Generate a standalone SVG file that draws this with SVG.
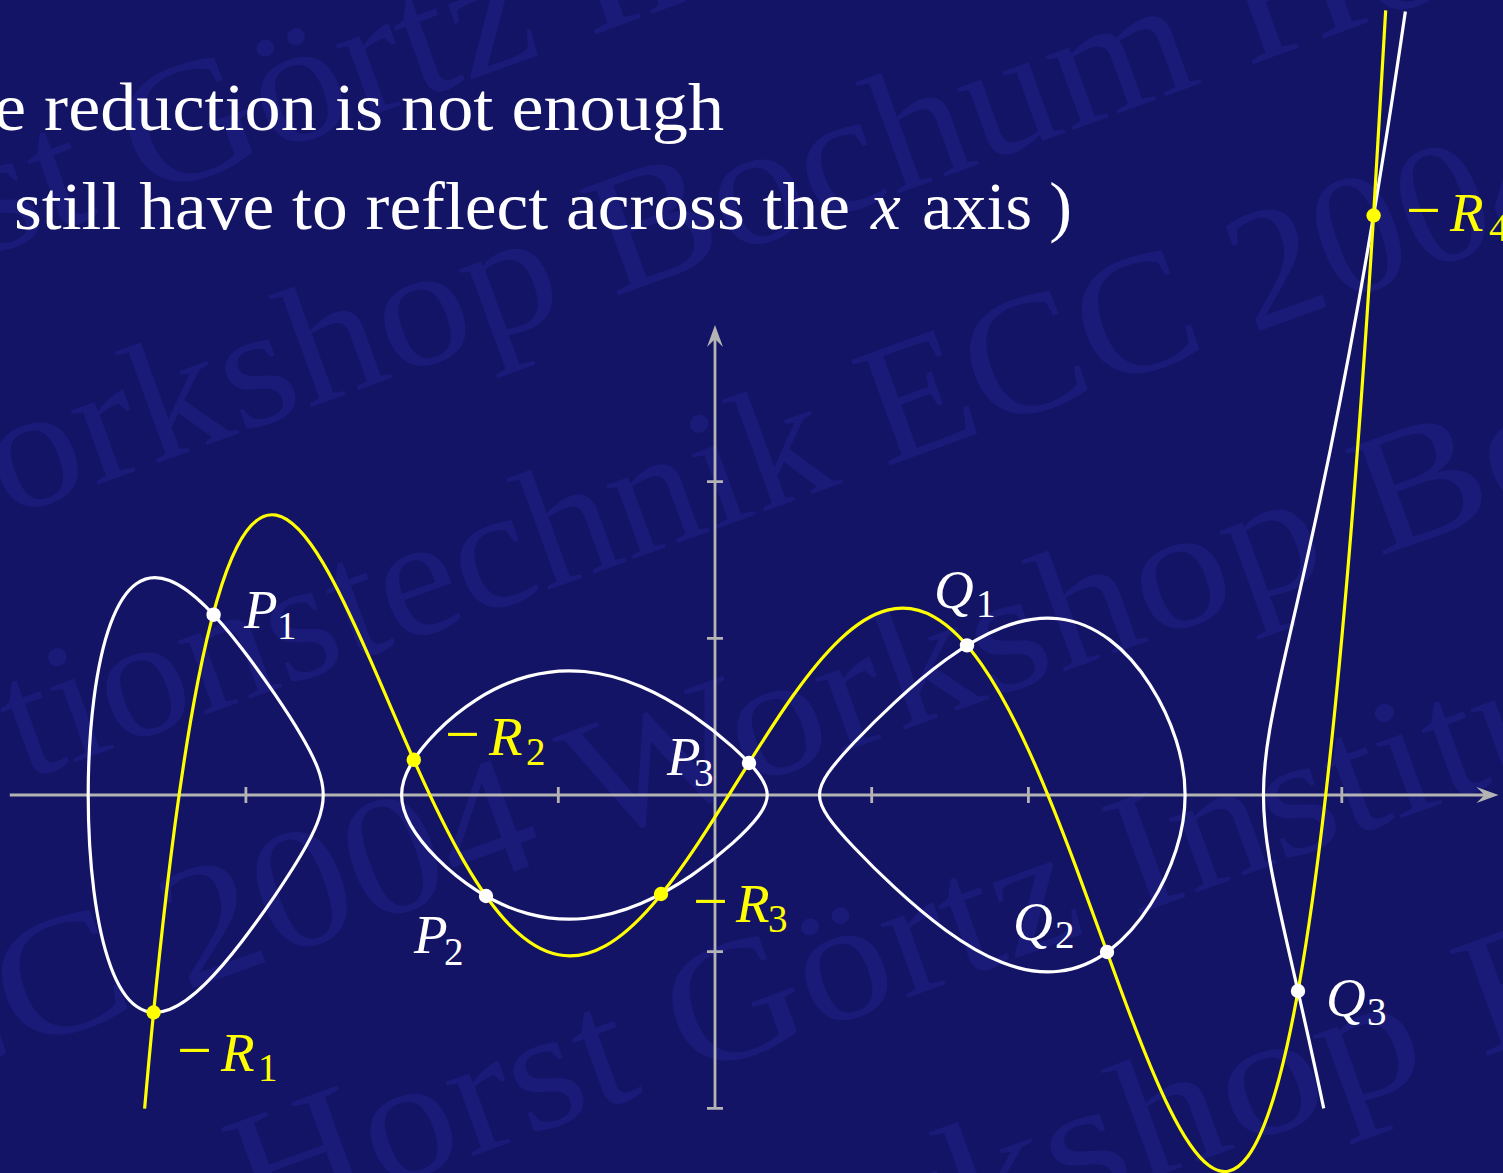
<svg xmlns="http://www.w3.org/2000/svg" width="1503" height="1173" viewBox="0 0 1503 1173">
<style>
.wm{font-family:"Liberation Serif",serif;font-size:172px;fill:#1a1a78}
.title{font-family:"Liberation Serif",serif;font-size:67px;fill:#ffffff}
.axis{stroke:#b4b4b4;stroke-width:2.8;fill:none}
.arrow{fill:#b4b4b4}
.wc{stroke:#ffffff;stroke-width:3.2;fill:none}
.yc{stroke:#ffff00;stroke-width:3.2;fill:none}
.dw{fill:#ffffff}
.dy{fill:#ffff00}
.lbl{font-family:"Liberation Serif",serif;font-size:55px;font-style:italic}
.sub{font-size:39px;font-style:normal}
.minus{font-size:62px;font-style:normal}
.lw{fill:#ffffff}
.ly{fill:#ffff00}
</style>
<rect width="1503" height="1173" fill="#131465"/>
<g id="watermark" class="wm" transform="rotate(-20)">
<text x="-395" y="236" textLength="1466" lengthAdjust="spacingAndGlyphs">Horst Görtz Institut</text>
<text x="-331" y="489" textLength="1894" lengthAdjust="spacingAndGlyphs">Workshop Bochum Horst</text>
<text x="-244" y="742" textLength="1663" lengthAdjust="spacingAndGlyphs">tionstechnik ECC 2004</text>
<text x="-590" y="995" textLength="2350" lengthAdjust="spacingAndGlyphs">ECC 2004 Workshop Bochum</text>
<text x="-184" y="1248" textLength="1466" lengthAdjust="spacingAndGlyphs">Horst Görtz Institut</text>
<text x="129" y="1501" textLength="1606" lengthAdjust="spacingAndGlyphs">Workshop Bochum</text>
</g>
<g id="title">
<text class="title" x="-6" y="130" textLength="730" lengthAdjust="spacingAndGlyphs">e reduction is not enough</text>
<text class="title" x="14" y="229" textLength="836" lengthAdjust="spacingAndGlyphs">still have to reflect across the</text>
<text class="title" x="871" y="229" font-style="italic">x</text>
<text class="title" x="922" y="229" textLength="150" lengthAdjust="spacingAndGlyphs">axis )</text>
</g>
<g id="axes">
<line class="axis" x1="9.8" y1="795" x2="1486" y2="795"/>
<line class="axis" x1="715" y1="1108.4" x2="715" y2="337"/>
<path class="axis" d="M245.9,787V803M558.3,787V803M871.7,787V803M1028.4,787V803M1341.8,787V803M707,638.3H723M707,481.6H723M707,951.7H723M707,1108.4H723"/>
<polygon class="arrow" points="1498.5,795 1476.5,787 1484.5,795 1476.5,803"/>
<polygon class="arrow" points="715,324.9 723,347 715,339 707,347"/>
</g>
<g id="connectors">
<path id="curve-left-oval" class="wc" d="M88.20,795 C88.20,761.60 90.15,728.25 93.95,698.63 C97.75,669.01 103.42,643.21 110.65,623.57 C117.88,603.93 126.69,590.45 136.65,583.48 C146.61,576.51 157.70,576.01 169.41,580.53 C181.12,585.05 193.42,594.53 205.73,606.68 C218.04,618.83 230.33,633.58 242.04,648.78 C253.75,663.98 264.84,679.58 274.80,694.21 C284.76,708.84 293.58,722.47 300.81,734.69 C308.04,746.91 313.70,757.72 317.50,767.53 C321.30,777.34 323.25,786.18 323.25,795 C323.25,803.82 321.30,812.66 317.50,822.47 C313.70,832.28 308.04,843.09 300.81,855.31 C293.58,867.53 284.76,881.16 274.80,895.79 C264.84,910.42 253.75,926.02 242.04,941.22 C230.33,956.42 218.04,971.17 205.73,983.32 C193.42,995.47 181.12,1004.95 169.41,1009.47 C157.70,1013.99 146.61,1013.49 136.65,1006.52 C126.69,999.55 117.88,986.07 110.65,966.43 C103.42,946.79 97.75,920.99 93.95,891.37 C90.15,861.75 88.20,828.40 88.20,795 Z"/>
<path id="curve-middle-oval" class="wc" d="M401.60,795 C401.60,785.34 404.63,775.62 410.55,765.15 C416.47,754.68 425.26,743.43 436.51,732.03 C447.76,720.63 461.47,709.17 476.96,699.31 C492.45,689.45 509.71,681.30 527.92,676.35 C546.13,671.40 565.27,669.69 584.42,671.52 C603.57,673.35 622.70,678.68 640.91,686.42 C659.12,694.16 676.38,704.22 691.87,714.82 C707.36,725.42 721.07,736.49 732.32,746.61 C743.57,756.73 752.37,765.87 758.29,773.77 C764.21,781.67 767.23,788.37 767.23,795 C767.23,801.63 764.21,808.33 758.29,816.23 C752.37,824.13 743.57,833.27 732.32,843.39 C721.07,853.51 707.36,864.58 691.87,875.18 C676.38,885.78 659.12,895.84 640.91,903.58 C622.70,911.32 603.57,916.65 584.42,918.48 C565.27,920.31 546.13,918.60 527.92,913.65 C509.71,908.70 492.45,900.55 476.96,890.69 C461.47,880.83 447.76,869.37 436.51,857.97 C425.26,846.57 416.47,835.32 410.55,824.85 C404.63,814.38 401.60,804.66 401.60,795 Z"/>
<path id="curve-right-oval" class="wc" d="M819.47,795 C819.47,788.12 822.49,781.18 828.41,772.69 C834.33,764.20 843.13,754.12 854.38,742.23 C865.63,730.34 879.34,716.64 894.83,702.31 C910.32,687.98 927.58,673.05 945.79,659.75 C964.00,646.45 983.13,634.88 1002.28,627.41 C1021.43,619.94 1040.57,616.66 1058.78,618.72 C1076.99,620.78 1094.25,628.18 1109.74,639.89 C1125.23,651.60 1138.94,667.50 1150.19,685.04 C1161.44,702.58 1170.23,721.58 1176.15,740.17 C1182.07,758.76 1185.10,776.93 1185.10,795 C1185.10,813.07 1182.07,831.24 1176.15,849.83 C1170.23,868.42 1161.44,887.42 1150.19,904.96 C1138.94,922.50 1125.23,938.40 1109.74,950.11 C1094.25,961.82 1076.99,969.22 1058.78,971.28 C1040.57,973.34 1021.43,970.06 1002.28,962.59 C983.13,955.12 964.00,943.55 945.79,930.25 C927.58,916.95 910.32,902.02 894.83,887.69 C879.34,873.36 865.63,859.66 854.38,847.77 C843.13,835.88 834.33,825.80 828.41,817.31 C822.49,808.82 819.47,801.88 819.47,795 Z"/>
<path id="curve-right-branch" class="wc" d="M1323.74,1108.35 C1309.46,1040.20 1297.73,989.97 1288.52,949.67 C1280.16,913.09 1273.90,884.79 1269.72,860.39 C1265.54,835.99 1263.45,815.50 1263.45,795 C1263.45,774.50 1265.54,754.01 1269.72,729.61 C1273.90,705.21 1280.16,676.91 1288.52,640.33 C1296.88,603.75 1307.32,558.93 1319.86,500.03 C1331.14,447.02 1344.12,382.62 1358.79,300.74 C1372.78,222.67 1388.30,128.74 1405.36,11.50"/>
<path id="curve-yellow" class="yc" d="M144.61,1108.59 C151.92,1025.62 159.24,953.98 166.55,892.01 C177.00,803.49 187.44,734.72 197.89,681.41 C210.95,614.78 224.00,572.28 237.06,546.75 C250.12,521.22 263.18,512.67 276.24,515.14 C291.91,518.10 307.58,536.89 323.25,563.35 C338.92,589.81 354.59,623.95 370.26,659.71 C385.93,695.47 401.60,732.87 417.27,767.69 C432.94,802.51 448.61,834.77 464.28,861.89 C479.95,889.01 495.62,911.02 511.29,926.70 C526.96,942.38 542.63,951.76 558.30,954.80 C573.97,957.84 589.64,954.56 605.31,945.83 C620.98,937.10 636.65,922.95 652.32,904.93 C667.99,886.91 683.66,865.05 699.33,841.36 C715.00,817.67 730.67,792.16 746.34,767.06 C762.01,741.96 777.68,717.30 793.35,695.27 C809.02,673.24 824.69,653.86 840.36,639.10 C856.03,624.34 871.70,614.20 887.37,610.15 C903.04,606.10 918.71,608.15 934.38,617.05 C950.05,625.95 965.72,641.70 981.39,664.10 C997.06,686.50 1012.73,715.55 1028.40,749.84 C1044.07,784.13 1059.74,823.67 1075.41,865.63 C1091.08,907.59 1106.75,951.96 1122.42,994.26 C1138.09,1036.56 1153.76,1076.80 1169.43,1108.55 C1182.49,1135.01 1195.55,1155.55 1208.61,1165.34 C1221.67,1175.13 1234.72,1174.19 1247.78,1156.54 C1260.84,1138.89 1273.90,1104.52 1286.96,1046.30 C1297.41,999.72 1307.85,937.85 1318.30,856.39 C1328.75,774.93 1339.19,673.90 1349.64,548.44 C1357.48,454.35 1365.31,346.49 1373.14,222.64 C1377.32,156.58 1381.50,86.00 1385.68,10.46"/>
</g>
<g id="P1"><circle class="dw" cx="213.6" cy="614.7" r="7.2"/><text class="lbl lw"><tspan x="244" y="628">P</tspan><tspan class="sub" x="277" y="639">1</tspan></text></g>
<g id="P2"><circle class="dw" cx="486" cy="896" r="7.2"/><text class="lbl lw"><tspan x="414" y="953">P</tspan><tspan class="sub" x="444" y="965">2</tspan></text></g>
<g id="P3"><circle class="dw" cx="749" cy="763" r="7.2"/><text class="lbl lw"><tspan x="667" y="775">P</tspan><tspan class="sub" x="694" y="786">3</tspan></text></g>
<g id="Q1"><circle class="dw" cx="967" cy="645.4" r="7.2"/><text class="lbl lw"><tspan x="934" y="608">Q</tspan><tspan class="sub" x="976" y="617">1</tspan></text></g>
<g id="Q2"><circle class="dw" cx="1107" cy="952" r="7.2"/><text class="lbl lw"><tspan x="1013" y="940">Q</tspan><tspan class="sub" x="1055" y="948">2</tspan></text></g>
<g id="Q3"><circle class="dw" cx="1298" cy="991" r="7.2"/><text class="lbl lw"><tspan x="1326" y="1016">Q</tspan><tspan class="sub" x="1367" y="1025">3</tspan></text></g>
<g id="mR1"><circle class="dy" cx="153.6" cy="1012.5" r="7.2"/><text class="lbl ly"><tspan class="minus" x="177" y="1071">−</tspan><tspan x="221" y="1071">R</tspan><tspan class="sub" x="258" y="1081">1</tspan></text></g>
<g id="mR2"><circle class="dy" cx="413.8" cy="759.8" r="7.2"/><text class="lbl ly"><tspan class="minus" x="445" y="755">−</tspan><tspan x="489" y="755">R</tspan><tspan class="sub" x="526" y="765">2</tspan></text></g>
<g id="mR3"><circle class="dy" cx="661" cy="894" r="7.2"/><text class="lbl ly"><tspan class="minus" x="693" y="922">−</tspan><tspan x="736" y="922">R</tspan><tspan class="sub" x="768" y="932">3</tspan></text></g>
<g id="mR4"><circle class="dy" cx="1373.6" cy="215.5" r="7.2"/><text class="lbl ly"><tspan class="minus" x="1406" y="231">−</tspan><tspan x="1450" y="231">R</tspan><tspan class="sub" x="1489" y="241">4</tspan></text></g>
</svg>
